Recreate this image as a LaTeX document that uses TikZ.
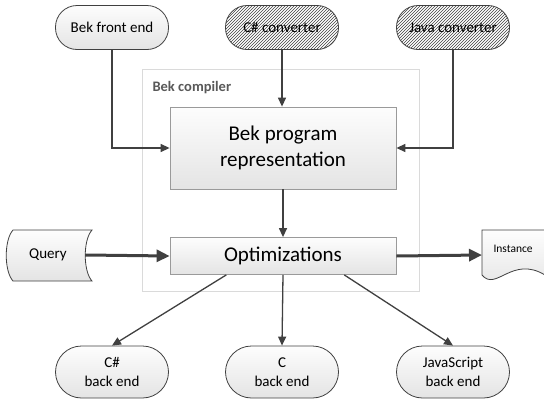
\documentclass[tikz,border=0pt]{standalone}
\usepackage{fontspec}
\setmainfont{Carlito}
\usetikzlibrary{arrows.meta,patterns,calc}
\definecolor{linec}{HTML}{404040}
\definecolor{edgec}{HTML}{9A9A9A}
\definecolor{boxtop}{HTML}{FDFDFD}
\definecolor{boxbot}{HTML}{E4E4E4}
\definecolor{compc}{HTML}{DADADA}
\definecolor{labc}{HTML}{595959}
\tikzset{
  term/.style={draw=linec, line width=0.8pt, rounded corners=21.5pt, minimum width=113pt,
    minimum height=44pt, top color=boxtop, bottom color=boxbot, align=center,
    font=\fontsize{15}{19}\selectfont, inner sep=0pt},
  hatched/.style={draw=linec, line width=0.8pt, rounded corners=21.5pt, minimum width=113pt,
    minimum height=44pt, preaction={fill=white}, pattern=north east lines,
    pattern color=linec, align=center, font=\fontsize{15}{19}\selectfont, inner sep=0pt},
  bterm/.style={term, rounded corners=26pt, minimum height=52pt},
  procbox/.style={draw=edgec, line width=0.8pt, minimum width=226pt, top color=boxtop,
    bottom color=boxbot, align=center, font=\fontsize{21}{26}\selectfont},
  conn/.style={draw=linec, line width=1.3pt, -{Triangle[length=9pt,width=8pt]}},
  thick conn/.style={draw=linec, line width=3pt, -{Triangle[length=13pt,width=12pt]}},
  shapeline/.style={draw=linec, line width=0.8pt, top color=boxtop, bottom color=boxbot}
}
\begin{document}
\begin{tikzpicture}[x=1pt,y=-1pt]
\useasboundingbox (0,0) rectangle (544,399);
% compiler container
\draw[compc, line width=1pt, fill=white] (142,69) rectangle (419,291);
\node[anchor=west, text=labc, font=\bfseries\fontsize{14.5}{17}\selectfont] (complabel) at (149,88) {Bek compiler};
% top terminators
\node[term] (fe) at (112,27.5) {Bek front end};
\node[hatched] (cc) at (282,27.5) {C\# converter};
\node[hatched] (jc) at (453,27.5) {Java converter};
% process boxes
\node[procbox, minimum height=82pt] (prog) at (283,148) {Bek program\\representation};
\node[procbox, minimum height=37pt] (opt) at (283,256) {Optimizations};
% query (stored data shape)
\path[shapeline] (13,230) -- (92,230) .. controls (83,240) and (83,271) .. (92,281)
  -- (13,281) .. controls (4,271) and (4,240) .. (13,230) -- cycle;
\node[font=\fontsize{15}{18}\selectfont, minimum width=74pt, inner sep=0pt] (query) at (48,255) {Query};
% instance (document shape)
\path[shapeline] (545,230) -- (482,230) -- (482,275)
  .. controls (496,292) and (512,255) .. (545,275);
\node[font=\fontsize{11.5}{13}\selectfont, anchor=west] (inst) at (490,249) {Instance};
\coordinate (instin) at (482,255);
% bottom terminators
\node[bterm] (csb) at (112,372) {C\#\\back end};
\node[bterm] (cb) at (282,372) {C\\back end};
\node[bterm] (jsb) at (453,372) {JavaScript\\back end};
% connectors
\draw[conn] (fe.south) |- (prog.west);
\draw[conn] (cc.south) -- (cc.south |- prog.north);
\draw[conn] (jc.south) |- (prog.east);
\draw[conn] (prog.south -| opt.north) -- (opt.north);
\draw[thick conn] (query.east) -- (opt.west);
\draw[thick conn] (opt.east) -- (instin);
\draw[conn] ($(opt.south west)!0.25!(opt.south east)$) -- (csb.north);
\draw[conn] (opt.south) -- (cb.north);
\draw[conn] ($(opt.south west)!0.77!(opt.south east)$) -- (jsb.north);
\end{tikzpicture}
\end{document}
